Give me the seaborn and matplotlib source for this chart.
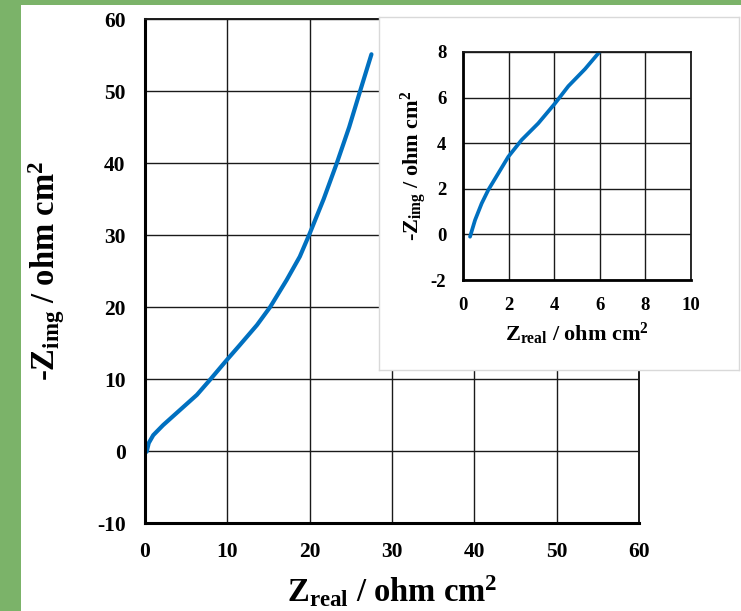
import matplotlib
matplotlib.use("Agg")
import matplotlib.pyplot as plt
from matplotlib.patches import Rectangle
import seaborn as sns
import pandas as pd

# Nyquist data
main_zreal = [0.2, 0.45, 1.0, 2.2, 4.25, 6.3, 7.9, 9.9, 11.5, 13.6, 15.2, 17.2, 18.8, 20.0, 21.7, 23.3, 24.8, 26.1, 27.5]
main_zimg = [-0.1, 1.1, 2.2, 3.6, 5.7, 7.8, 9.9, 12.6, 14.7, 17.5, 20.0, 23.75, 27.0, 30.2, 35.0, 40.0, 45.0, 49.9, 55.1]

inset_zreal = [0.31, 0.53, 0.82, 1.11, 1.55, 1.99, 2.57, 3.30, 4.04, 4.62, 5.35, 5.96]
inset_zimg = [-0.1, 0.63, 1.36, 1.95, 2.68, 3.41, 4.14, 4.87, 5.75, 6.5, 7.25, 7.97]

main_xticks = [0, 10, 20, 30, 40, 50, 60]
main_yticks = [-10, 0, 10, 20, 30, 40, 50, 60]
inset_xticks = [0, 2, 4, 6, 8, 10]
inset_yticks = [-2, 0, 2, 4, 6, 8]

sns.set_theme(style="white")
plt.rcParams["font.family"] = ["Liberation Serif", "DejaVu Serif"]
plt.rcParams["font.weight"] = "bold"
plt.rcParams["axes.unicode_minus"] = False
plt.rcParams["mathtext.fontset"] = "custom"
plt.rcParams["mathtext.rm"] = "Liberation Serif:bold"
plt.rcParams["mathtext.bf"] = "Liberation Serif:bold"
plt.rcParams["mathtext.it"] = "Liberation Serif:bold"

line_color = "#0070c0"
green = "#7bb369"

df_main = pd.DataFrame({"zreal": main_zreal, "zimg": main_zimg})
df_inset = pd.DataFrame({"zreal": inset_zreal, "zimg": inset_zimg})

fig = plt.figure(figsize=(7.41, 6.11), dpi=100)
fig.patch.set_facecolor("white")

# green frame strips
fig.patches.append(Rectangle((0, 0), 21 / 741, 1, transform=fig.transFigure,
                             facecolor=green, edgecolor="none", zorder=0))
fig.patches.append(Rectangle((0, 1 - 5 / 611), 1, 5 / 611, transform=fig.transFigure,
                             facecolor=green, edgecolor="none", zorder=0))


def style_axes(ax, xticks, yticks, xlim, ylim, fs, pad, heavy, light):
    ax.set_xlim(*xlim)
    ax.set_ylim(*ylim)
    ax.set_xticks(xticks)
    ax.set_yticks(yticks)
    ax.grid(True, color="#1a1a1a", linewidth=1.0)
    ax.set_axisbelow(True)
    for side in ["left", "bottom"]:
        ax.spines[side].set_linewidth(heavy)
        ax.spines[side].set_color("black")
    for side in ["top", "right"]:
        ax.spines[side].set_linewidth(light)
        ax.spines[side].set_color("#1a1a1a")
    ax.tick_params(length=0, labelsize=fs, pad=pad, colors="black")
    for lab in ax.get_xticklabels() + ax.get_yticklabels():
        lab.set_fontweight("bold")


# main chart
ax = fig.add_axes([0.1957, 0.1440, 0.6667, 0.8249])
sns.lineplot(data=df_main, x="zreal", y="zimg", ax=ax, color=line_color,
             linewidth=3.0, sort=False, estimator=None)
style_axes(ax, main_xticks, main_yticks, (0, 60), (-10, 60), 15.5, 14, 2.2, 1.4)
ax.set_xlabel(r"$\mathbf{Z_{real}}$ / ohm cm$^{\mathbf{2}}$", fontsize=23.5,
              fontweight="bold", color="black")
ax.set_ylabel(r"-$\mathbf{Z_{img}}$ / ohm cm$^{\mathbf{2}}$", fontsize=23.5,
              fontweight="bold", color="black")
ax.xaxis.set_label_coords(0.5, -0.1)
ax.yaxis.set_label_coords(-0.158, 0.5)

# inset frame box
box = fig.add_axes([0.5115, 0.3944, 0.4858, 0.5778])
box.set_facecolor("white")
box.set_xticks([])
box.set_yticks([])
for s in box.spines.values():
    s.set_color("#d9d9d9")
    s.set_linewidth(1.0)

# inset chart
axi = fig.add_axes([0.6248, 0.5417, 0.3077, 0.3732])
sns.lineplot(data=df_inset, x="zreal", y="zimg", ax=axi, color=line_color,
             linewidth=2.7, sort=False, estimator=None)
style_axes(axi, inset_xticks, inset_yticks, (0, 10), (-2, 8), 13.5, 12, 2.0, 1.3)
axi.set_xlabel(r"$\mathbf{Z_{real}}$ / ohm cm$^{\mathbf{2}}$", fontsize=16,
               fontweight="bold", color="black")
axi.set_ylabel(r"-$\mathbf{Z_{img}}$ / ohm cm$^{\mathbf{2}}$", fontsize=16,
               fontweight="bold", color="black")
axi.xaxis.set_label_coords(0.5, -0.18)
axi.yaxis.set_label_coords(-0.15, 0.5)

fig.savefig("out.png", dpi=100, facecolor="white")
plt.close(fig)
